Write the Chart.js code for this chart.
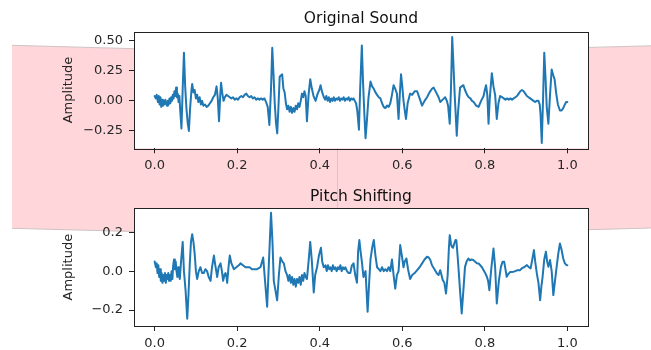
<!DOCTYPE html>
<html><head><meta charset="utf-8">
<script src="https://cdn.jsdelivr.net/npm/chart.js@4/dist/chart.umd.min.js"></script>
<style>
html,body{margin:0;padding:0;background:#fff;}
#wrap{position:relative;width:651px;height:350px;overflow:hidden;}
#bg{position:absolute;left:0;top:0;}
canvas{position:absolute;left:0;}
</style></head><body>
<div id="wrap">
<svg id="bg" width="651" height="350">
 <path d="M12,45.3 Q331.5,57 651,45.8 L651,228 Q331.5,239.5 12,228.3 Z" fill="#ffd6da"/>
 <path d="M12,45.3 Q331.5,57 651,45.8" fill="none" stroke="#cfc3c4" stroke-width="1"/>
 <path d="M651,228 Q331.5,239.5 12,228.3" fill="none" stroke="#cfc3c4" stroke-width="1"/>
 <line x1="337.5" y1="148" x2="337.5" y2="208" stroke="#e8bcc1" stroke-width="1"/>
</svg>
<canvas id="c1" width="651" height="175" style="top:0"></canvas>
<canvas id="c2" width="651" height="175" style="top:175px"></canvas>
</div>
<script>
const titles = ["Original Sound", "Pitch Shifting"];
const yAxisLabel = "Amplitude";
const xTicks = [0, 0.2, 0.4, 0.6, 0.8, 1.0];
const xTickLabels = ["0.0", "0.2", "0.4", "0.6", "0.8", "1.0"];
const origYTicks = [-0.25, 0, 0.25, 0.5];
const origYTickLabels = ["\u22120.25", "0.00", "0.25", "0.50"];
const pitchYTicks = [-0.2, 0, 0.2];
const pitchYTickLabels = ["\u22120.2", "0.0", "0.2"];

const origTime = [0.000,0.003,0.005,0.008,0.010,0.012,0.014,0.016,0.018,0.020,0.022,0.024,0.026,0.028,0.030,0.032,0.034,0.036,0.038,0.040,0.042,0.044,0.046,0.048,0.050,0.052,0.054,0.056,0.058,0.060,0.062,0.065,0.068,0.071,0.074,0.077,0.080,0.083,0.086,0.089,0.091,0.094,0.097,0.100,0.103,0.106,0.109,0.112,0.115,0.118,0.122,0.126,0.130,0.134,0.138,0.142,0.146,0.150,0.153,0.156,0.159,0.161,0.164,0.167,0.170,0.174,0.178,0.182,0.186,0.190,0.194,0.198,0.202,0.206,0.210,0.214,0.218,0.222,0.226,0.230,0.234,0.238,0.242,0.246,0.250,0.254,0.258,0.262,0.266,0.270,0.274,0.278,0.282,0.285,0.288,0.291,0.294,0.297,0.300,0.303,0.306,0.309,0.312,0.315,0.318,0.321,0.324,0.327,0.330,0.333,0.336,0.339,0.342,0.345,0.348,0.351,0.354,0.357,0.360,0.363,0.366,0.369,0.373,0.377,0.381,0.385,0.390,0.395,0.399,0.402,0.406,0.410,0.413,0.416,0.419,0.422,0.425,0.428,0.431,0.434,0.437,0.440,0.443,0.446,0.449,0.452,0.455,0.458,0.461,0.464,0.467,0.470,0.473,0.476,0.479,0.482,0.485,0.488,0.491,0.495,0.498,0.502,0.505,0.508,0.511,0.514,0.518,0.523,0.527,0.531,0.535,0.539,0.543,0.547,0.551,0.555,0.559,0.563,0.567,0.571,0.575,0.579,0.583,0.587,0.591,0.594,0.597,0.600,0.603,0.606,0.609,0.613,0.619,0.624,0.630,0.636,0.642,0.648,0.654,0.660,0.666,0.672,0.676,0.682,0.688,0.692,0.698,0.704,0.708,0.711,0.715,0.718,0.721,0.724,0.727,0.730,0.732,0.735,0.740,0.744,0.748,0.752,0.757,0.761,0.765,0.769,0.773,0.779,0.785,0.791,0.797,0.800,0.803,0.806,0.809,0.812,0.817,0.821,0.825,0.829,0.833,0.837,0.842,0.846,0.850,0.854,0.858,0.862,0.866,0.870,0.874,0.878,0.882,0.886,0.890,0.894,0.898,0.902,0.906,0.910,0.914,0.918,0.922,0.926,0.930,0.933,0.935,0.938,0.941,0.944,0.947,0.950,0.954,0.958,0.962,0.966,0.969,0.973,0.977,0.982,0.986,0.990,0.994,0.997,1.000];
const origAmp = [0.04,0.02,0.05,-0.01,0.04,-0.03,0.03,-0.05,0.01,-0.04,0.00,-0.03,0.01,-0.02,-0.04,0.00,-0.03,0.02,-0.02,0.03,0.00,0.05,0.02,0.08,0.04,0.11,0.03,0.06,-0.01,0.04,-0.08,-0.23,0.10,0.40,0.12,-0.06,-0.18,-0.25,-0.06,0.08,0.14,0.07,0.09,0.02,0.05,-0.01,0.03,-0.03,0.00,-0.04,-0.03,-0.05,-0.04,-0.02,0.00,0.03,0.05,0.12,0.02,-0.17,0.05,0.15,0.06,0.00,0.03,0.05,0.04,0.03,0.02,0.03,0.01,0.02,0.01,0.03,0.04,0.03,0.05,0.06,0.04,0.03,0.04,0.02,0.03,0.01,0.02,0.01,0.02,0.01,0.02,-0.01,-0.05,-0.20,0.10,0.44,0.22,-0.02,-0.18,-0.27,-0.05,0.20,0.21,0.22,0.10,0.07,-0.02,-0.07,-0.04,-0.09,-0.05,-0.10,-0.06,-0.09,-0.04,-0.07,-0.02,-0.05,0.00,0.06,0.03,0.08,0.04,-0.17,0.05,0.18,0.10,0.04,0.00,0.06,0.09,0.13,0.07,0.03,0.01,0.04,0.00,0.03,-0.01,0.02,0.00,0.03,0.00,0.02,0.01,0.03,0.00,0.02,0.01,0.03,0.00,0.02,0.01,0.03,0.00,0.02,0.01,0.02,0.00,-0.02,-0.08,-0.24,0.10,0.46,0.15,-0.10,-0.31,-0.18,0.02,0.16,0.12,0.10,0.07,0.05,0.03,0.02,-0.02,-0.05,-0.06,-0.04,-0.05,-0.02,0.05,0.13,0.10,0.06,-0.15,0.05,0.22,0.12,0.00,-0.08,-0.15,-0.02,0.06,0.05,0.08,0.08,0.02,-0.04,0.00,0.03,0.07,0.10,0.11,0.07,0.03,-0.01,0.01,0.03,0.00,-0.04,-0.19,0.10,0.53,0.30,0.05,-0.15,-0.29,-0.10,0.11,0.12,0.13,0.09,0.05,0.03,0.02,0.00,-0.01,-0.04,-0.05,0.00,0.04,0.09,0.13,0.05,-0.19,0.02,0.23,0.12,0.05,-0.15,-0.02,0.04,0.03,0.02,0.01,0.02,0.01,0.02,0.01,0.02,0.03,0.04,0.06,0.08,0.09,0.08,0.06,0.04,0.03,0.02,0.01,0.00,-0.01,0.00,0.00,-0.03,-0.11,-0.35,0.00,0.40,0.20,-0.05,-0.19,0.05,0.26,0.21,0.18,0.06,-0.03,-0.08,-0.08,-0.06,-0.03,-0.01,-0.01];

const pitchTime = [0.000,0.003,0.005,0.007,0.009,0.011,0.013,0.015,0.017,0.019,0.021,0.023,0.025,0.027,0.029,0.031,0.033,0.035,0.037,0.039,0.041,0.043,0.045,0.047,0.049,0.051,0.053,0.055,0.057,0.059,0.061,0.064,0.068,0.071,0.075,0.079,0.082,0.085,0.088,0.091,0.094,0.097,0.100,0.103,0.107,0.111,0.115,0.119,0.123,0.127,0.131,0.1355,0.139,0.1436,0.147,0.1516,0.155,0.1597,0.163,0.166,0.169,0.1717,0.174,0.1758,0.179,0.182,0.186,0.192,0.198,0.204,0.208,0.214,0.220,0.224,0.230,0.236,0.242,0.248,0.2565,0.263,0.2686,0.2726,0.277,0.282,0.2855,0.2887,0.2968,0.301,0.3048,0.309,0.313,0.317,0.321,0.324,0.327,0.330,0.333,0.336,0.339,0.342,0.345,0.348,0.351,0.354,0.357,0.360,0.363,0.366,0.369,0.373,0.377,0.381,0.3855,0.389,0.3935,0.398,0.403,0.406,0.4097,0.414,0.417,0.420,0.423,0.426,0.429,0.432,0.435,0.438,0.441,0.444,0.447,0.450,0.453,0.456,0.459,0.462,0.466,0.470,0.474,0.478,0.482,0.486,0.4903,0.493,0.496,0.499,0.502,0.506,0.511,0.516,0.520,0.523,0.527,0.531,0.535,0.539,0.543,0.547,0.551,0.555,0.559,0.563,0.567,0.571,0.575,0.579,0.583,0.587,0.591,0.595,0.599,0.603,0.606,0.610,0.614,0.619,0.624,0.630,0.636,0.642,0.648,0.654,0.660,0.664,0.668,0.672,0.678,0.684,0.688,0.692,0.695,0.698,0.702,0.706,0.710,0.713,0.715,0.718,0.720,0.723,0.726,0.729,0.731,0.734,0.736,0.740,0.744,0.748,0.752,0.756,0.760,0.764,0.768,0.772,0.776,0.781,0.785,0.789,0.793,0.797,0.801,0.805,0.808,0.811,0.816,0.821,0.825,0.829,0.834,0.839,0.843,0.847,0.850,0.853,0.857,0.861,0.865,0.869,0.874,0.879,0.885,0.890,0.895,0.902,0.907,0.911,0.915,0.919,0.922,0.926,0.930,0.934,0.937,0.940,0.944,0.948,0.951,0.954,0.958,0.962,0.966,0.970,0.974,0.978,0.982,0.986,0.990,0.994,0.998,1.000];
const pitchAmp = [0.05,0.02,0.04,-0.01,0.03,-0.03,0.01,-0.05,-0.01,-0.06,-0.02,-0.05,-0.01,-0.06,-0.02,-0.04,-0.01,-0.05,-0.02,-0.05,0.00,-0.04,0.03,0.06,0.01,0.05,0.00,-0.03,0.02,-0.02,-0.04,0.05,0.15,0.00,-0.10,-0.245,-0.12,0.03,0.15,0.19,0.15,0.09,0.00,-0.04,0.00,0.02,-0.01,-0.01,0.01,0.00,-0.03,-0.05,0.02,0.08,0.03,-0.03,0.02,0.04,0.00,-0.05,-0.02,-0.01,-0.03,-0.06,0.02,0.08,0.04,0.01,0.02,0.03,0.04,0.03,0.02,0.02,0.02,0.01,0.01,0.01,0.02,0.07,-0.08,-0.183,0.05,0.30,0.15,-0.05,-0.15,-0.02,0.07,0.05,0.04,0.00,-0.02,-0.05,-0.02,-0.06,-0.03,-0.07,-0.04,-0.08,-0.04,-0.06,-0.03,-0.07,-0.02,-0.05,-0.01,-0.03,-0.04,0.05,0.15,0.05,-0.11,-0.02,0.02,0.08,0.12,0.05,0.02,0.03,0.00,0.03,0.01,0.02,0.00,0.03,0.01,0.02,0.00,0.02,0.01,0.03,0.00,0.02,0.01,0.02,0.00,-0.01,-0.01,0.03,0.04,-0.02,-0.06,0.10,0.16,0.10,0.05,-0.03,0.00,-0.209,-0.05,0.06,0.12,0.16,0.08,0.02,0.01,0.00,0.02,0.00,0.01,0.00,0.02,0.00,0.06,-0.02,-0.09,-0.02,0.00,0.134,0.08,0.02,0.05,0.065,0.01,-0.04,-0.02,-0.01,0.005,0.02,0.04,0.06,0.074,0.07,0.057,0.03,0.01,-0.012,-0.02,0.005,-0.02,-0.046,-0.06,-0.115,-0.02,0.12,0.185,0.14,0.125,0.12,0.142,0.16,0.159,0.08,0.022,-0.10,-0.218,-0.10,0.022,0.05,0.065,0.055,0.06,0.057,0.05,0.04,0.039,0.03,0.02,0.005,-0.01,-0.029,-0.05,-0.098,0.02,0.116,0.02,-0.166,-0.05,0.022,0.048,0.048,0.01,-0.029,-0.015,-0.005,-0.005,-0.003,0.00,0.005,0.005,0.015,0.02,0.031,0.02,0.014,0.06,0.108,0.05,-0.012,-0.06,-0.149,-0.08,-0.029,0.06,0.10,0.05,0.022,0.057,0.00,-0.123,-0.05,0.022,0.09,0.142,0.11,0.065,0.04,0.031,0.03];

const FONT = "'DejaVu Sans', 'Liberation Sans', sans-serif";
const TXT = '#262626';

const framePlugin = {
  id: 'frame',
  beforeDraw(chart) {
    const {ctx, chartArea: a} = chart;
    ctx.save(); ctx.fillStyle = '#fff';
    ctx.fillRect(a.left, a.top, a.right - a.left, a.bottom - a.top);
    ctx.restore();
  },
  afterDraw(chart) {
    const {ctx, chartArea: a} = chart;
    ctx.save(); ctx.strokeStyle = '#222'; ctx.lineWidth = 1;
    ctx.strokeRect(Math.round(a.left) + 0.5, Math.round(a.top) + 0.5, Math.round(a.right - a.left), Math.round(a.bottom - a.top));
    ctx.restore();
  }
};

function makeChart(id, times, amps, yMin, yMax, yTicks, yLabels, title, tPadTop, tPadBottom, xHeight) {
  const data = times.map((t, i) => ({x: t, y: amps[i]}));
  return new Chart(document.getElementById(id), {
    type: 'line',
    data: { datasets: [{ data, borderColor: '#1f77b4', borderWidth: 2, pointRadius: 0, tension: 0, fill: false, borderJoinStyle: 'round', borderCapStyle: 'round' }] },
    options: {
      responsive: false, animation: false, devicePixelRatio: 1,
      layout: { padding: { left: 0, right: 63, top: 0, bottom: 0 } },
      plugins: {
        legend: { display: false }, tooltip: { enabled: false },
        title: { display: true, text: title, fullSize: false, color: '#111',
          font: { family: FONT, size: 15.5, weight: 'normal' },
          padding: { top: tPadTop, bottom: tPadBottom } }
      },
      scales: {
        x: {
          type: 'linear', min: -0.05, max: 1.05,
          afterBuildTicks: s => { s.ticks = xTicks.map(v => ({value: v})); },
          afterFit: s => { s.height = xHeight; },
          ticks: { autoSkip: false, maxRotation: 0, padding: 5, color: TXT,
            font: { family: FONT, size: 13 }, callback: (v, i) => xTickLabels[i] },
          grid: { drawOnChartArea: false, drawTicks: true, tickLength: 5, color: '#222' },
          border: { display: false }
        },
        y: {
          type: 'linear', min: yMin, max: yMax,
          afterBuildTicks: s => { s.ticks = yTicks.map(v => ({value: v})); },
          afterFit: s => { s.width = 134; },
          ticks: { autoSkip: false, padding: 6, color: TXT,
            font: { family: FONT, size: 13 }, callback: (v, i) => yLabels[i] },
          grid: { drawOnChartArea: false, drawTicks: true, tickLength: 5, color: '#222' },
          border: { display: false },
          title: { display: true, text: yAxisLabel, color: TXT,
            font: { family: FONT, size: 13 }, padding: { top: 61, bottom: 0 } }
        }
      }
    },
    plugins: [framePlugin]
  });
}

makeChart('c1', origTime, origAmp, -0.394, 0.574, origYTicks, origYTickLabels, titles[0], 9.2, 3.9, 26.7);
makeChart('c2', pitchTime, pitchAmp, -0.282, 0.323, pitchYTicks, pitchYTickLabels, titles[1], 12.7, 2.0, 24);
</script>
</body></html>
